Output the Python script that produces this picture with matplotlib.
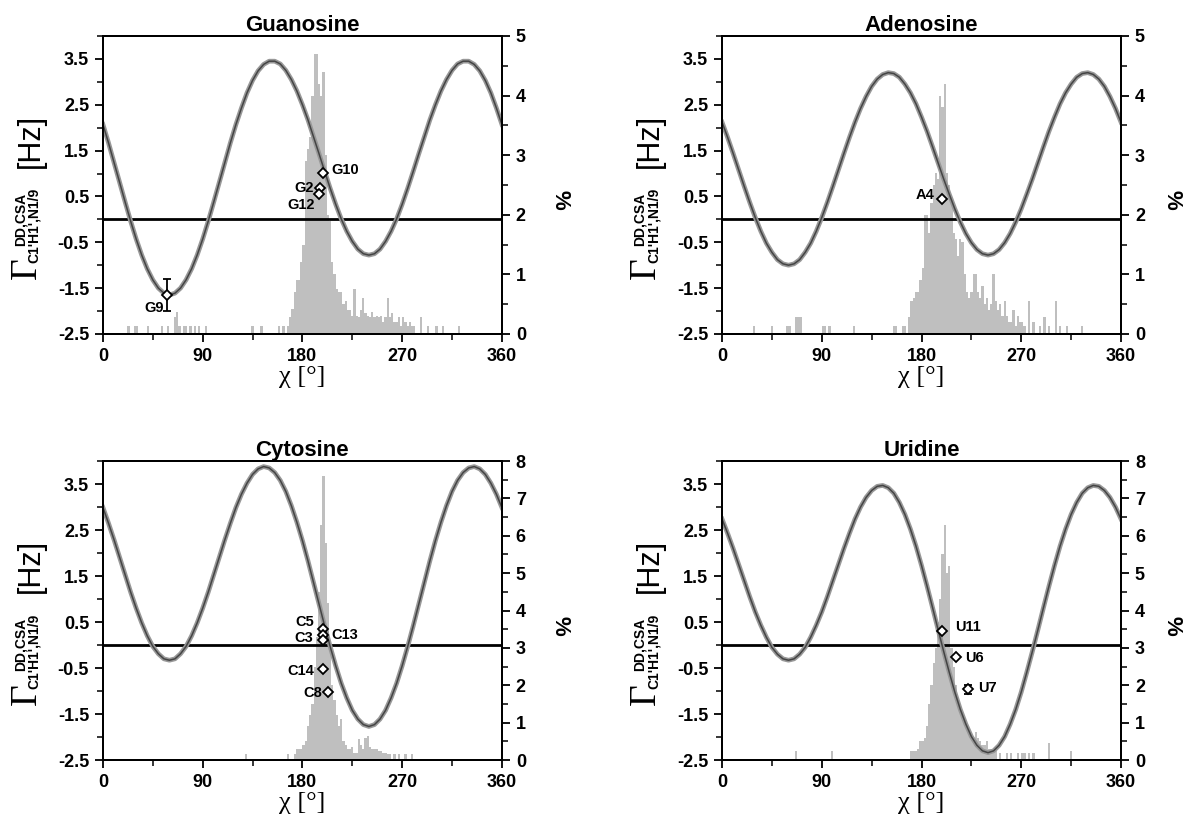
import matplotlib
matplotlib.use("Agg")
import matplotlib.pyplot as plt

plt.rcParams['font.family'] = ['Liberation Sans', 'DejaVu Sans']
plt.rcParams['font.weight'] = 'bold'

# angle grid for the calculated curves
chi_curve = list(range(0, 361, 5))

# calculated cross-correlated rates [Hz]
g_curve = [2.07, 1.67, 1.24, 0.81, 0.38, -0.04, -0.43, -0.78, -1.08, -1.32, -1.50, -1.61, -1.65,
           -1.61, -1.50, -1.32, -1.08, -0.78, -0.43, -0.04, 0.38, 0.81, 1.24, 1.67, 2.07, 2.43,
           2.76, 3.03, 3.24, 3.38, 3.45, 3.45, 3.39, 3.25, 3.05, 2.80, 2.50, 2.17, 1.80, 1.43,
           1.05, 0.68, 0.33, 0.01, -0.26, -0.48, -0.65, -0.75, -0.78, -0.75, -0.65, -0.48,
           -0.26, 0.01, 0.33, 0.68, 1.05, 1.43, 1.80, 2.17, 2.50, 2.80, 3.05, 3.25, 3.39, 3.45,
           3.45, 3.38, 3.24, 3.03, 2.76, 2.43, 2.07]
a_curve = [2.12, 1.79, 1.44, 1.08, 0.72, 0.37, 0.04, -0.26, -0.52, -0.72, -0.88, -0.97, -1.00,
           -0.97, -0.88, -0.72, -0.52, -0.26, 0.04, 0.37, 0.72, 1.08, 1.44, 1.79, 2.12, 2.42,
           2.68, 2.90, 3.06, 3.16, 3.20, 3.18, 3.10, 2.95, 2.76, 2.52, 2.23, 1.92, 1.58, 1.23,
           0.88, 0.55, 0.23, -0.06, -0.31, -0.51, -0.66, -0.75, -0.78, -0.75, -0.66, -0.51,
           -0.31, -0.06, 0.23, 0.55, 0.88, 1.23, 1.58, 1.92, 2.23, 2.52, 2.76, 2.95, 3.10, 3.18,
           3.20, 3.16, 3.06, 2.90, 2.68, 2.42, 2.12]
c_curve = [2.99, 2.65, 2.29, 1.91, 1.53, 1.15, 0.80, 0.48, 0.20, -0.03, -0.19, -0.30, -0.33,
           -0.30, -0.19, -0.03, 0.20, 0.48, 0.80, 1.15, 1.53, 1.91, 2.29, 2.65, 2.99, 3.28,
           3.52, 3.71, 3.83, 3.88, 3.85, 3.75, 3.58, 3.34, 3.03, 2.67, 2.27, 1.83, 1.36, 0.89,
           0.42, -0.03, -0.45, -0.83, -1.15, -1.42, -1.61, -1.73, -1.77, -1.73, -1.61, -1.42,
           -1.15, -0.83, -0.45, -0.03, 0.42, 0.89, 1.36, 1.83, 2.27, 2.67, 3.03, 3.34, 3.58,
           3.75, 3.85, 3.88, 3.83, 3.71, 3.52, 3.28, 2.99]
u_curve = [2.74, 2.43, 2.10, 1.75, 1.40, 1.05, 0.72, 0.43, 0.17, -0.05, -0.20, -0.30, -0.33,
           -0.30, -0.20, -0.05, 0.17, 0.43, 0.72, 1.05, 1.40, 1.75, 2.10, 2.43, 2.74, 3.00,
           3.21, 3.36, 3.45, 3.47, 3.42, 3.30, 3.10, 2.84, 2.52, 2.15, 1.73, 1.28, 0.81, 0.33,
           -0.14, -0.59, -1.02, -1.40, -1.72, -1.99, -2.18, -2.30, -2.34, -2.30, -2.18, -1.99,
           -1.72, -1.40, -1.02, -0.59, -0.14, 0.33, 0.81, 1.28, 1.73, 2.15, 2.52, 2.84, 3.10,
           3.30, 3.42, 3.47, 3.45, 3.36, 3.21, 3.00, 2.74]

# chi distributions (2 degree bins, bin start [deg], percent)
g_bins = [22, 28, 30, 40, 52, 58, 64, 66, 68, 72, 74, 78, 82, 86, 92, 134, 142, 158, 162, 166,
          168, 170, 172, 174, 176, 178, 180, 182, 184, 186, 188, 190, 192, 194, 196, 198, 200,
          202, 204, 206, 208, 210, 212, 214, 216, 218, 220, 222, 224, 226, 228, 230, 232, 234,
          236, 238, 240, 242, 244, 246, 248, 250, 252, 254, 256, 258, 260, 262, 264, 266, 268,
          270, 272, 274, 276, 278, 280, 286, 292, 300, 306, 320]
g_pct = [0.14, 0.14, 0.14, 0.14, 0.14, 0.14, 0.28, 0.37, 0.14, 0.14, 0.14, 0.14, 0.14, 0.14,
         0.14, 0.14, 0.14, 0.14, 0.14, 0.14, 0.28, 0.42, 0.7, 0.9, 0.9, 1.2, 1.5, 2.9, 3.1, 3.3,
         4.0, 4.7, 4.7, 4.2, 4.0, 4.4, 3.0, 2.0, 1.9, 1.2, 1.0, 0.75, 0.7, 0.7, 0.5, 0.55, 0.4,
         0.4, 0.3, 0.75, 0.3, 0.28, 0.4, 0.6, 0.35, 0.3, 0.28, 0.37, 0.28, 0.3, 0.28, 0.3, 0.2,
         0.28, 0.6, 0.28, 0.35, 0.2, 0.2, 0.28, 0.14, 0.28, 0.2, 0.14, 0.2, 0.14, 0.14, 0.28,
         0.14, 0.14, 0.14, 0.14]

a_bins = [28, 44, 58, 60, 66, 68, 70, 90, 92, 96, 118, 154, 156, 162, 164, 168, 170, 172, 174,
          176, 178, 180, 182, 184, 186, 188, 190, 192, 194, 196, 198, 200, 202, 204, 206, 208,
          210, 212, 214, 216, 218, 220, 222, 224, 226, 228, 230, 232, 234, 236, 238, 240, 242,
          244, 246, 248, 250, 252, 254, 256, 258, 260, 262, 264, 266, 268, 270, 272, 276, 280,
          286, 290, 294, 300, 304, 310, 324]
a_pct = [0.14, 0.14, 0.14, 0.14, 0.28, 0.28, 0.28, 0.14, 0.14, 0.14, 0.14, 0.14, 0.14, 0.14,
         0.14, 0.28, 0.56, 0.6, 0.7, 0.7, 0.9, 1.1, 2.0, 2.0, 1.7, 2.2, 2.5, 2.7, 2.6, 4.0, 3.8,
         4.2, 2.7, 2.5, 2.2, 1.7, 1.6, 1.3, 1.6, 1.55, 1.0, 0.7, 0.6, 0.7, 1.0, 1.0, 0.7, 0.6,
         0.8, 0.5, 0.6, 0.4, 0.5, 1.0, 0.55, 0.4, 0.5, 0.3, 0.55, 0.3, 0.2, 0.2, 0.4, 0.14, 0.3,
         0.2, 0.2, 0.14, 0.55, 0.2, 0.14, 0.28, 0.14, 0.55, 0.14, 0.14, 0.14]

c_bins = [128, 166, 172, 174, 176, 178, 180, 182, 184, 186, 188, 190, 192, 194, 196, 198, 200,
          202, 204, 206, 208, 210, 212, 214, 216, 218, 220, 222, 224, 226, 228, 230, 232, 234,
          236, 238, 240, 242, 244, 246, 248, 250, 252, 254, 256, 258, 262, 266, 272, 278]
c_pct = [0.16, 0.16, 0.16, 0.3, 0.3, 0.3, 0.4, 0.5, 0.9, 1.2, 1.5, 2.5, 3.3, 4.5, 6.3, 7.6,
         5.8, 4.2, 3.0, 2.0, 1.6, 1.2, 0.9, 1.1, 0.5, 0.4, 0.3, 0.3, 0.35, 0.2, 0.2, 0.55, 0.4,
         0.3, 0.6, 0.65, 0.35, 0.3, 0.3, 0.3, 0.25, 0.25, 0.2, 0.2, 0.16, 0.16, 0.16, 0.16,
         0.16, 0.16]

u_bins = [66, 98, 170, 172, 174, 176, 178, 180, 182, 184, 186, 188, 190, 192, 194, 196, 198,
          200, 202, 204, 206, 208, 210, 212, 214, 216, 218, 220, 222, 224, 226, 228, 230, 232,
          234, 236, 238, 240, 242, 244, 246, 250, 256, 260, 266, 270, 272, 276, 280, 294, 314]
u_pct = [0.25, 0.25, 0.25, 0.25, 0.25, 0.3, 0.5, 0.5, 0.6, 0.9, 1.5, 2.0, 2.6, 3.0, 3.7, 4.3,
         5.5, 6.3, 5.0, 5.2, 3.0, 2.5, 2.0, 1.6, 1.4, 1.2, 1.0, 0.9, 0.8, 0.6, 0.6, 0.75, 0.6,
         0.5, 0.4, 0.4, 0.5, 0.3, 0.3, 0.25, 0.25, 0.2, 0.2, 0.2, 0.2, 0.2, 0.2, 0.2, 0.2, 0.45,
         0.25]

# measured rates: residue, chi [deg], rate [Hz], error [Hz]
g_res = ["G10", "G2", "G12", "G9"]
g_chi = [199, 196, 195, 58]
g_rate = [1.01, 0.68, 0.55, -1.65]
g_err = [0.0, 0.0, 0.0, 0.35]

a_res = ["A4"]
a_chi = [198.5]
a_rate = [0.44]
a_err = [0.0]

c_res = ["C5", "C13", "C3", "C14", "C8"]
c_chi = [198.5, 198.5, 198.5, 198.5, 203]
c_rate = [0.35, 0.22, 0.10, -0.52, -1.02]
c_err = [0.0, 0.0, 0.0, 0.0, 0.0]

u_res = ["U11", "U6", "U7"]
u_chi = [198.6, 211, 222]
u_rate = [0.30, -0.26, -0.96]
u_err = [0.0, 0.0, 0.1]

# label placement: (chi, rate, alignment)
g_lab = [(206, 1.08, 'left'), (190, 0.69, 'right'), (191, 0.32, 'right'), (55, -1.93, 'right')]
a_lab = [(192, 0.53, 'right')]
c_lab = [(191, 0.50, 'right'), (206, 0.22, 'left'), (190, 0.15, 'right'), (191, -0.56, 'right'),
         (198, -1.04, 'right')]
u_lab = [(210, 0.39, 'left'), (219, -0.28, 'left'), (231, -0.94, 'left')]

panels = [
    ("Guanosine", [0.0868, 0.5942, 0.3364, 0.3621], g_curve, g_bins, g_pct, 5,
     g_res, g_chi, g_rate, g_err, g_lab, 1.145),
    ("Adenosine", [0.6088, 0.5942, 0.3364, 0.3621], a_curve, a_bins, a_pct, 5,
     a_res, a_chi, a_rate, a_err, a_lab, 1.128),
    ("Cytosine", [0.0868, 0.0765, 0.3364, 0.3633], c_curve, c_bins, c_pct, 8,
     c_res, c_chi, c_rate, c_err, c_lab, 1.145),
    ("Uridine", [0.6088, 0.0765, 0.3364, 0.3633], u_curve, u_bins, u_pct, 8,
     u_res, u_chi, u_rate, u_err, u_lab, 1.128),
]

fig = plt.figure(figsize=(11.86, 8.23), dpi=100)

for (title, pos, curve, bins, pct, pmax, res, chi, rate, err, lab, pct_x) in panels:
    ax = fig.add_axes(pos)
    ax2 = ax.twinx()

    # histogram behind everything
    ax2.bar(bins, pct, width=2, align='edge', color='#bfbfbf', linewidth=0)
    ax2.set_ylim(0, pmax)
    ax2.set_yticks(range(0, pmax + 1))
    ax2.set_yticks([i + 0.5 for i in range(pmax)], minor=True)
    ax.set_zorder(ax2.get_zorder() + 1)
    ax.patch.set_visible(False)

    ax.axhline(0, color='black', lw=2)
    ax.plot(chi_curve, curve, color='#989898', lw=3.4, solid_joinstyle='round')
    ax.plot(chi_curve, curve, color='black', lw=1.1, alpha=0.55)

    for i in range(len(res)):
        if err[i] > 0:
            ax.errorbar(chi[i], rate[i], yerr=err[i], fmt='none', ecolor='black',
                        elinewidth=1.3, capsize=3, capthick=1.3)
        ax.plot(chi[i], rate[i], marker='D', ms=5, mfc='white', mec='black', mew=1.3)
        lx, ly, ha = lab[i]
        ax.text(lx, ly, res[i], ha=ha, va='center', fontsize=10.5, fontweight='bold')

    ax.set_xlim(0, 360)
    ax.set_ylim(-2.5, 4.0)
    ax.set_xticks([0, 90, 180, 270, 360])
    ax.set_xticks([45, 135, 225, 315], minor=True)
    ax.set_yticks([-2.5, -1.5, -0.5, 0.5, 1.5, 2.5, 3.5])
    ax.set_yticklabels(["-2.5", "-1.5", "-0.5", "0.5", "1.5", "2.5", "3.5"])
    ax.set_yticks([-2, -1, 0, 1, 2, 3, 4], minor=True)

    for a in (ax, ax2):
        a.tick_params(which='major', length=6, width=1.3, labelsize=13, pad=4)
        a.tick_params(which='minor', length=4, width=1.1)
        for s in a.spines.values():
            s.set_linewidth(1.4)
    for t in ax.get_xticklabels() + ax.get_yticklabels() + ax2.get_yticklabels():
        t.set_fontweight('bold')

    ax.set_title(title, fontsize=16, fontweight='bold', pad=1)
    ax.set_xlabel("χ [°]", fontsize=19, fontweight='normal', family='Liberation Serif',
                  labelpad=1)

    # y axis label built from pieces
    ax.text(-0.192, 0.22, "Γ", transform=ax.transAxes, rotation=90, ha='center', va='center',
            fontsize=27, fontweight='normal', family='Liberation Serif')
    ax.text(-0.206, 0.385, "DD,CSA", transform=ax.transAxes, rotation=90, ha='center',
            va='center', fontsize=10, fontweight='bold')
    ax.text(-0.172, 0.365, "C1'H1',N1/9", transform=ax.transAxes, rotation=90, ha='center',
            va='center', fontsize=10, fontweight='bold')
    ax.text(-0.18, 0.648, "[Hz]", transform=ax.transAxes, rotation=90, ha='center',
            va='center', fontsize=22, fontweight='normal')
    ax.text(pct_x, 0.45, "%", transform=ax.transAxes, rotation=270, ha='center', va='center',
            fontsize=16, fontweight='bold')

fig.savefig("out.png", dpi=100)
